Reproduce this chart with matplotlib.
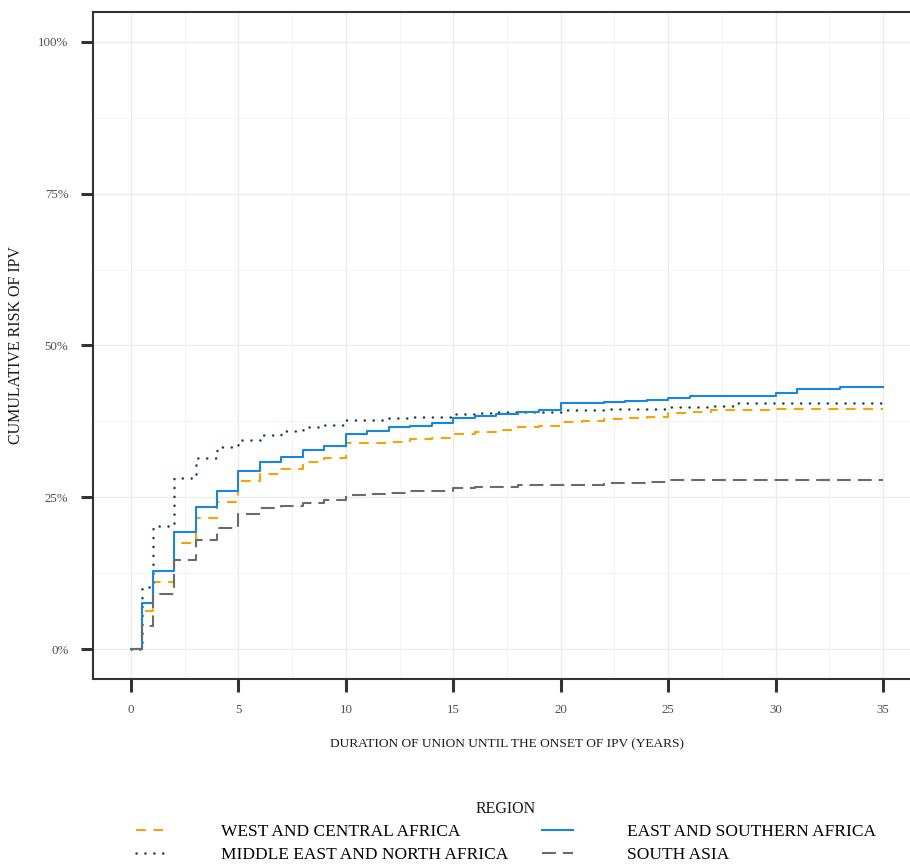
import numpy as np
import matplotlib
matplotlib.use("Agg")
import matplotlib.pyplot as plt
from matplotlib.ticker import MultipleLocator, FuncFormatter

# ---- data (years, cumulative risk in %) ----
years = [0, 0.5, 1, 2, 3, 4, 5, 6, 7, 8, 9, 10, 11, 12, 13, 14, 15, 16, 17, 18,
         19, 20, 21, 22, 23, 24, 25, 26, 27, 28, 29, 30, 31, 32, 33, 34, 35]

west_central = [0, 6.3, 11.0, 17.4, 21.6, 24.2, 27.6, 28.8, 29.7, 30.8, 31.4, 33.9,
                34.0, 34.1, 34.6, 34.8, 35.5, 35.8, 36.1, 36.6, 36.7, 37.4, 37.5,
                37.9, 38.1, 38.3, 38.8, 39.0, 39.3, 39.4, 39.4, 39.6, 39.6, 39.6,
                39.6, 39.6, 39.6]
mena = [0, 10.3, 20.3, 28.1, 31.4, 33.3, 34.4, 35.3, 35.9, 36.6, 36.9, 37.7, 37.8,
        38.0, 38.2, 38.3, 38.7, 38.8, 39.0, 39.1, 39.1, 39.4, 39.4, 39.5, 39.5,
        39.6, 39.9, 39.9, 40.1, 40.5, 40.5, 40.5, 40.5, 40.5, 40.5, 40.5, 40.5]
east_southern = [0, 7.5, 12.8, 19.3, 23.4, 26.0, 29.4, 30.8, 31.7, 32.8, 33.4, 35.5,
                 35.9, 36.5, 36.8, 37.3, 38.0, 38.4, 38.7, 39.0, 39.4, 40.5, 40.6,
                 40.7, 40.9, 41.1, 41.3, 41.6, 41.7, 41.7, 41.7, 42.2, 42.8, 42.8,
                 43.2, 43.2, 43.2]
south_asia = [0, 3.8, 9.0, 14.7, 18.0, 19.9, 22.2, 23.2, 23.6, 24.0, 24.5, 25.4,
              25.5, 25.7, 26.0, 26.1, 26.6, 26.7, 26.7, 27.0, 27.0, 27.1, 27.1,
              27.3, 27.3, 27.5, 27.8, 27.8, 27.8, 27.8, 27.8, 27.8, 27.8, 27.8,
              27.8, 27.8, 27.8]

labels = ["West and Central Africa", "Middle East and North Africa",
          "East and Southern Africa", "South Asia"]

plt.rcParams["font.family"] = ["Liberation Serif", "DejaVu Serif"]
plt.rcParams["lines.scale_dashes"] = False

fig = plt.figure(figsize=(9.10, 8.67), dpi=100)
ax = fig.add_axes([0.1027, 0.2164, 0.9089, 0.7702])

styles = [
    (west_central, "#F5A400", (0, (7, 5.5)), "butt"),
    (mena, "#14403A", (0, (0.1, 6.3)), "round"),
    (east_southern, "#1786E2", "-", "butt"),
    (south_asia, "#6B6B6B", (0, (10, 5)), "butt"),
]
for (vals, col, ls, cap), lab in zip(styles, labels):
    ln, = ax.step(years, vals, where="post", color=col, linestyle=ls, linewidth=1.5,
                  label=lab.upper())
    ln.set_dash_capstyle(cap)
    if cap == "round":
        ln.set_linewidth(1.8)

ax.set_xlim(-1.75, 36.75)
ax.set_ylim(-5, 105)
ax.xaxis.set_major_locator(MultipleLocator(5))
ax.xaxis.set_minor_locator(MultipleLocator(2.5))
ax.yaxis.set_major_locator(MultipleLocator(25))
ax.yaxis.set_minor_locator(MultipleLocator(12.5))
ax.yaxis.set_major_formatter(FuncFormatter(lambda v, p: f"{v:.0f}%"))
ax.grid(True, which="major", color="#EBEBEB", linewidth=1.0)
ax.grid(True, which="minor", color="#F3F3F3", linewidth=0.6)
ax.set_axisbelow(True)

for side in ["left", "top", "bottom"]:
    ax.spines[side].set_color("#333333")
    ax.spines[side].set_linewidth(1.5)
ax.spines["right"].set_visible(False)

ax.tick_params(which="major", length=9, width=2.2, color="#333333", direction="out",
               labelsize=9.3, labelcolor="#4D4D4D", pad=9)
ax.tick_params(which="minor", length=0)

ax.set_xlabel("DURATION OF UNION UNTIL THE ONSET OF IPV (YEARS)", fontsize=9.6,
              labelpad=16, color="#1A1A1A")
ax.set_ylabel("CUMULATIVE RISK OF IPV", fontsize=11.5, labelpad=10, color="#1A1A1A")

leg = fig.legend(loc="center", bbox_to_anchor=(0.556, 0.040), ncol=2, frameon=False,
                 title="REGION", fontsize=12.5, title_fontsize=11.5,
                 handlelength=1.8, handletextpad=3.1, columnspacing=1.9,
                 labelspacing=0.4)
leg.get_title().set_color("#1A1A1A")

fig.savefig("out.png", dpi=100)
